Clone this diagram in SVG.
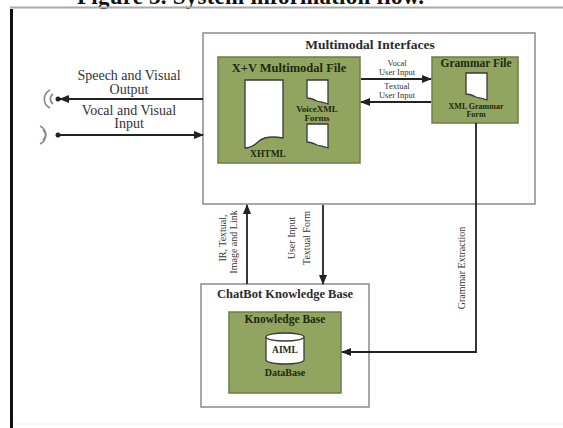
<svg xmlns="http://www.w3.org/2000/svg" width="563" height="428" viewBox="0 0 563 428">
<style>
.serif{font-family:"Liberation Serif","Times New Roman",serif}
.b{font-weight:bold}
.lbl{font-family:"Liberation Serif",serif;fill:#333}
.gtxt{font-family:"Liberation Serif",serif;font-weight:bold;fill:#1f2a12;text-anchor:middle}
.frame{fill:#fff;stroke:#8a8a8a;stroke-width:1.5}
.green{fill:#91a560;stroke:#6c7e46;stroke-width:1.5}
.doc{fill:#fff;stroke:#3a3a3a;stroke-width:1.3}
.conn{stroke:#222;stroke-width:1.8;fill:none}
.icon{stroke:#888;stroke-width:1.6;fill:none}
</style>
<defs>
<marker id="ah" markerUnits="userSpaceOnUse" markerWidth="10" markerHeight="8" refX="9" refY="4" orient="auto">
<path d="M0,0 L10,4 L0,8 Z" fill="#222"/>
</marker>
</defs>
<rect width="563" height="428" fill="#fff"/>
<text class="serif b" x="77" y="4" font-size="23" textLength="347" fill="#111">Figure 3. System information flow.</text>
<line x1="10" y1="7.5" x2="563" y2="7.5" stroke="#aaa" stroke-width="2"/>
<line x1="11.5" y1="9" x2="11.5" y2="428" stroke="#111" stroke-width="3"/>
<line x1="14" y1="424" x2="563" y2="424" stroke="#eee" stroke-width="1"/>

<g id="multimodal-interfaces">
<rect class="frame" x="203" y="33" width="332" height="171"/>
<text class="serif b" x="370" y="49" font-size="13.5" text-anchor="middle" fill="#2b2b2b">Multimodal Interfaces</text>
</g>

<g id="xv-file">
<rect class="green" x="218" y="57" width="142" height="106"/>
<text class="gtxt" x="289" y="72" font-size="12.5">X+V Multimodal File</text>
<path class="doc" d="M245,80 H283 V138 C272,136 264,137 259,141 C254,146 250,148 245,148 Z"/>
<text class="gtxt" x="268" y="157" font-size="9.5">XHTML</text>
<path class="doc" d="M307,80 H328 V104 C323,102 320,102 317,101 C313,99 310,98 307,98 Z"/>
<text class="gtxt" x="317" y="112" font-size="9">VoiceXML</text>
<text class="gtxt" x="317" y="121" font-size="9">Forms</text>
<path class="doc" d="M307,124 H328 V148 C323,146 320,146 317,145 C313,143 310,142 307,142 Z"/>
</g>

<g id="grammar-file">
<rect class="green" x="432" y="57" width="86" height="66"/>
<text class="gtxt" x="476" y="67" font-size="11.5">Grammar File</text>
<path class="doc" d="M466,73 H487 V100 C482,98 479,98 476,97 C472,95 469,94 466,94 Z"/>
<text class="gtxt" x="476" y="109" font-size="8">XML Grammar</text>
<text class="gtxt" x="476" y="117" font-size="8">Form</text>
</g>

<g id="chatbot-kb">
<rect class="frame" x="201" y="284" width="168" height="123"/>
<text class="serif b" x="285" y="298" font-size="12.5" text-anchor="middle" fill="#2b2b2b">ChatBot Knowledge Base</text>
</g>

<g id="knowledge-base">
<rect class="green" x="229" y="312" width="112" height="81"/>
<text class="gtxt" x="285" y="323" font-size="11.5">Knowledge Base</text>
<path d="M266,337 V360 A19,4 0 0 0 304,360 V337" fill="#fff" stroke="#3a3a3a" stroke-width="1.3"/>
<ellipse cx="285" cy="337" rx="19" ry="4" fill="#fff" stroke="#3a3a3a" stroke-width="1.3"/>
<text class="gtxt" x="285" y="353" font-size="9.5">AIML</text>
<text class="gtxt" x="285" y="376" font-size="10">DataBase</text>
</g>

<g id="output-icon">
<path class="icon" d="M53,94 A6,6 0 0 0 53,104"/>
<path class="icon" d="M50,90 A10,10 0 0 0 50,108"/>
<circle cx="58" cy="99" r="2.5" fill="#222"/>
</g>
<g id="input-icon">
<path class="icon" d="M43,130 A6,6 0 0 1 43,140"/>
<path class="icon" d="M40,126 A10,10 0 0 1 40,144"/>
<circle cx="58" cy="135" r="2.5" fill="#222"/>
</g>

<g id="connectors">
<line class="conn" x1="203" y1="99" x2="60" y2="99" marker-end="url(#ah)"/>
<line class="conn" x1="58" y1="135" x2="203" y2="135" marker-end="url(#ah)"/>
<line class="conn" x1="361" y1="79" x2="431" y2="79" marker-end="url(#ah)"/>
<line class="conn" x1="431" y1="102" x2="361" y2="102" marker-end="url(#ah)"/>
<line class="conn" x1="247" y1="284" x2="247" y2="205" marker-end="url(#ah)"/>
<line class="conn" x1="323" y1="205" x2="323" y2="284" marker-end="url(#ah)"/>
<polyline class="conn" points="476,123 476,352 342,352" marker-end="url(#ah)"/>
</g>

<g id="connector-labels">
<text class="lbl" x="129" y="80" font-size="14" text-anchor="middle">Speech and Visual</text>
<text class="lbl" x="129" y="93.5" font-size="14" text-anchor="middle">Output</text>
<text class="lbl" x="129" y="114.5" font-size="14" text-anchor="middle">Vocal and Visual</text>
<text class="lbl" x="129" y="128" font-size="14" text-anchor="middle">Input</text>
<text class="lbl" x="397" y="66" font-size="8.5" text-anchor="middle">Vocal</text>
<text class="lbl" x="397" y="75" font-size="8.5" text-anchor="middle">User Input</text>
<text class="lbl" x="397" y="89" font-size="8.5" text-anchor="middle">Textual</text>
<text class="lbl" x="397" y="98" font-size="8.5" text-anchor="middle">User Input</text>
<text class="lbl" transform="translate(226,238) rotate(-90)" font-size="10" text-anchor="middle">IR, Textual,</text>
<text class="lbl" transform="translate(237,242) rotate(-90)" font-size="10" text-anchor="middle">Image and Link</text>
<text class="lbl" transform="translate(295,238) rotate(-90)" font-size="10" text-anchor="middle">User Input</text>
<text class="lbl" transform="translate(310,238) rotate(-90)" font-size="10" text-anchor="middle">Textual Form</text>
<text class="lbl" transform="translate(465,268) rotate(-90)" font-size="10" text-anchor="middle">Grammar Extraction</text>
</g>
</svg>
